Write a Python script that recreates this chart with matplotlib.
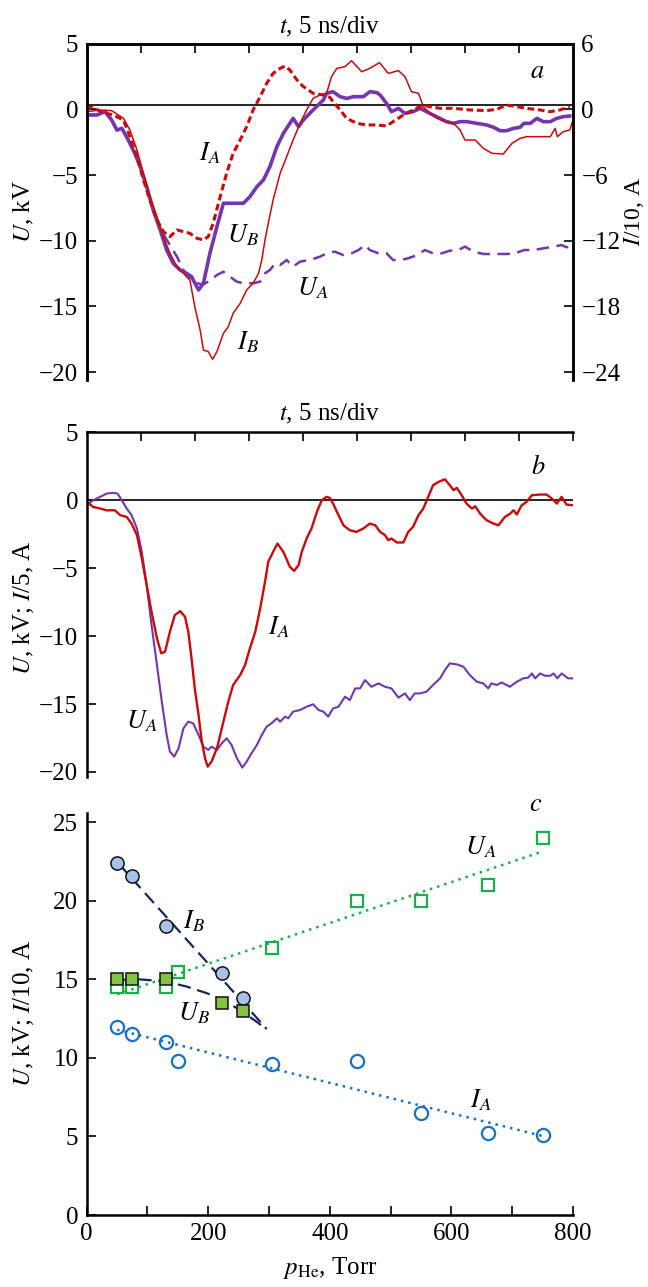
import numpy as np
import matplotlib
matplotlib.use("Agg")
import matplotlib.pyplot as plt

plt.rcParams['font.family'] = ['Liberation Serif', 'DejaVu Serif']
plt.rcParams['mathtext.fontset'] = 'stix'
plt.rcParams['axes.unicode_minus'] = True

# ---------------- Panel a (t in divisions, 5 ns/div) ----------------
ta_IB = [0, 0.25, 0.46, 0.68, 0.80, 0.93, 1.05, 1.17, 1.30, 1.42, 1.54, 1.67, 1.79, 1.91, 2.00, 2.10,
         2.16, 2.25, 2.33, 2.41, 2.53, 2.62, 2.71, 2.84, 2.96, 3.08, 3.18, 3.24, 3.30, 3.36, 3.45, 3.58,
         3.70, 3.82, 3.95, 4.07, 4.19, 4.32, 4.44, 4.53, 4.63, 4.78, 4.90, 5.09, 5.24, 5.42, 5.58, 5.77,
         5.89, 6.01, 6.14, 6.23, 6.35, 6.48, 6.63, 6.79, 6.91, 7.00, 7.19, 7.34, 7.50, 7.71, 7.87, 8.02,
         8.14, 8.58, 8.67, 8.71, 8.82, 8.94, 9.0]
IB_a = [-0.22, -0.06, -0.12, -0.82, -1.89, -3.71, -5.84, -7.97, -9.80, -11.63, -13.15, -14.37, -14.98,
        -15.59, -18.02, -20.16, -21.98, -22.13, -22.83, -22.13, -20.46, -19.85, -18.63, -17.72, -16.50,
        -15.89, -14.98, -13.76, -11.93, -10.41, -8.28, -5.84, -4.33, -2.80, -1.28, -0.06, 1.00, 1.31,
        1.46, 2.98, 3.74, 3.89, 4.44, 3.43, 3.74, 4.26, 3.28, 3.53, 2.98, 1.61, 1.46, 0.24, -0.37, -0.82,
        -1.13, -1.28, -1.89, -2.80, -2.80, -3.56, -4.02, -4.08, -3.11, -2.65, -2.50, -2.50, -1.74, -2.50,
        -2.04, -1.89, -0.98]

ta_IA = [0, 0.12, 0.25, 0.49, 0.68, 0.80, 0.93, 1.05, 1.17, 1.30, 1.42, 1.54, 1.67, 1.79, 1.91, 2.04,
         2.16, 2.25, 2.34, 2.47, 2.59, 2.71, 2.84, 2.96, 3.08, 3.21, 3.33, 3.45, 3.58, 3.67, 3.76, 3.89,
         4.01, 4.19, 4.38, 4.50, 4.56, 4.69, 4.81, 5.00, 5.18, 5.37, 5.55, 5.67, 5.86, 6.04, 6.23, 6.35,
         6.54, 6.79, 7.09, 7.40, 7.59, 7.77, 7.96, 8.14, 8.39, 8.57, 8.76, 8.94]
IA_a = [0.09, 0.24, -0.22, -0.52, -0.98, -2.49, -4.33, -6.45, -8.28, -10.11, -11.17, -11.63, -11.02,
        -11.17, -11.33, -11.78, -11.93, -11.63, -10.41, -7.98, -5.84, -4.02, -2.80, -1.59, -0.06, 1.15,
        2.37, 3.28, 3.74, 3.95, 3.59, 2.68, 2.07, 1.46, 1.31, 1.10, 0.70, -0.06, -0.82, -1.28, -1.43,
        -1.43, -1.52, -1.13, -0.52, -0.06, 0.39, 0.24, 0.09, 0.09, -0.06, -0.12, 0.00, 0.39, 0.24, 0.09,
        -0.06, -0.22, -0.06, 0.24]

ta_UB = [0, 0.19, 0.34, 0.46, 0.56, 0.65, 0.77, 0.89, 0.99, 1.11, 1.23, 1.36, 1.48, 1.60, 1.73, 1.85,
         1.94, 2.07, 2.16, 2.28, 2.41, 2.53, 2.65, 2.90, 3.02, 3.15, 3.27, 3.39, 3.52, 3.64, 3.82, 3.92,
         4.01, 4.19, 4.38, 4.44, 4.56, 4.69, 4.81, 4.94, 5.12, 5.24, 5.37, 5.43, 5.55, 5.64, 5.77, 5.89,
         6.04, 6.17, 6.29, 6.41, 6.54, 6.66, 6.79, 6.91, 7.03, 7.22, 7.40, 7.53, 7.65, 7.77, 7.90, 8.02,
         8.09, 8.21, 8.33, 8.45, 8.58, 8.70, 8.82, 8.94]
UB_a = [-0.43, -0.43, -0.18, -0.81, -1.58, -1.45, -2.34, -3.35, -4.37, -5.89, -7.66, -9.18, -10.71,
        -11.72, -12.23, -12.49, -12.73, -13.75, -13.24, -10.96, -8.93, -7.15, -7.15, -7.15, -6.65, -5.89,
        -5.38, -4.37, -2.84, -1.83, -0.69, -1.32, -0.81, -0.05, 0.71, 1.22, 1.34, 0.96, 0.83, 0.96, 0.96,
        1.34, 1.27, 1.09, 0.45, -0.18, 0.07, -0.31, -0.18, 0.07, -0.18, -0.43, -0.69, -0.94, -1.07,
        -0.94, -0.94, -1.07, -1.19, -1.37, -1.63, -1.63, -1.45, -1.37, -1.07, -1.07, -0.69, -0.94, -0.94,
        -0.69, -0.56, -0.51]

ta_UA = [0, 0.19, 0.34, 0.46, 0.56, 0.65, 0.77, 0.89, 0.99, 1.11, 1.23, 1.39, 1.54, 1.67, 1.79, 1.91,
         2.04, 2.16, 2.28, 2.41, 2.53, 2.65, 2.78, 2.90, 3.08, 3.21, 3.30, 3.39, 3.49, 3.58, 3.70, 3.82,
         3.95, 4.13, 4.32, 4.44, 4.59, 4.75, 4.90, 5.03, 5.15, 5.24, 5.40, 5.55, 5.67, 5.80, 5.95, 6.11,
         6.26, 6.41, 6.57, 6.72, 6.88, 7.00, 7.16, 7.34, 7.53, 7.77, 7.93, 8.09, 8.27, 8.45, 8.64, 8.79,
         8.88, 8.96]
UA_a = [-0.43, -0.43, -0.18, -0.81, -1.58, -1.45, -2.34, -3.35, -4.37, -5.89, -7.66, -9.31, -10.33,
        -11.21, -12.23, -12.86, -13.24, -13.32, -13.04, -12.61, -12.36, -12.74, -13.12, -13.24, -13.24,
        -13.12, -12.48, -12.23, -11.72, -11.85, -11.47, -11.97, -11.59, -11.47, -11.21, -10.96, -10.83,
        -11.09, -10.96, -10.71, -10.33, -10.71, -10.96, -10.96, -11.47, -11.47, -11.34, -11.09, -10.71,
        -10.96, -10.96, -10.76, -10.71, -10.45, -10.83, -11.01, -11.01, -11.01, -10.96, -10.71, -10.71,
        -10.58, -10.45, -10.33, -10.50, -10.45]

# ---------------- Panel b ----------------
tb_IA = [0, 0.12, 0.25, 0.37, 0.52, 0.62, 0.74, 0.83, 0.93, 1.02, 1.11, 1.20, 1.30, 1.38, 1.45, 1.54,
         1.63, 1.73, 1.82, 1.88, 1.94, 2.00, 2.07, 2.13, 2.19, 2.24, 2.31, 2.41, 2.53, 2.62, 2.71, 2.84,
         2.93, 3.02, 3.12, 3.21, 3.30, 3.36, 3.45, 3.53, 3.64, 3.76, 3.84, 3.92, 3.98, 4.07, 4.16, 4.26,
         4.35, 4.44, 4.50, 4.56, 4.66, 4.75, 4.87, 4.99, 5.12, 5.24, 5.34, 5.43, 5.52, 5.58, 5.64, 5.74,
         5.86, 5.95, 6.04, 6.14, 6.23, 6.32, 6.41, 6.51, 6.63, 6.72, 6.79, 6.85, 6.94, 7.03, 7.13, 7.19,
         7.28, 7.40, 7.53, 7.62, 7.74, 7.84, 7.90, 7.96, 8.05, 8.14, 8.24, 8.39, 8.51, 8.61, 8.70, 8.79,
         8.88, 9.0]
IA_b = [-0.12, -0.49, -0.61, -0.74, -0.74, -1.10, -1.23, -1.72, -2.57, -4.29, -6.25, -8.21, -10.17,
        -11.27, -11.15, -9.68, -8.46, -8.16, -8.58, -9.68, -11.64, -13.85, -15.81, -17.77, -19.0, -19.61,
        -19.24, -18.26, -16.30, -14.83, -13.60, -12.87, -12.13, -10.91, -9.68, -7.97, -6.00, -4.53, -3.80,
        -3.19, -3.80, -4.90, -5.20, -4.78, -3.80, -2.82, -2.08, -0.86, 0.0, 0.25, 0.17, -0.25, -1.10,
        -1.84, -2.21, -2.33, -2.08, -1.72, -1.84, -2.33, -2.57, -2.94, -2.82, -3.11, -3.11, -2.33, -1.96,
        -1.10, -0.61, 0.25, 1.10, 1.35, 1.54, 1.10, 0.74, 0.91, 0.37, -0.25, -0.61, -0.44, -0.98, -1.47,
        -1.72, -1.84, -1.23, -0.98, -0.74, -1.05, -0.37, -0.12, 0.37, 0.42, 0.42, 0.12, -0.25, 0.25,
        -0.32, -0.37]

tb_UA = [0, 0.12, 0.25, 0.37, 0.49, 0.57, 0.65, 0.74, 0.83, 0.93, 1.02, 1.11, 1.20, 1.30, 1.39, 1.48,
         1.54, 1.62, 1.70, 1.79, 1.88, 1.97, 2.07, 2.16, 2.25, 2.31, 2.41, 2.50, 2.59, 2.68, 2.78, 2.88,
         2.96, 3.05, 3.15, 3.24, 3.33, 3.42, 3.52, 3.58, 3.67, 3.73, 3.82, 3.95, 4.07, 4.19, 4.29, 4.38,
         4.47, 4.56, 4.66, 4.78, 4.87, 4.97, 5.06, 5.15, 5.27, 5.40, 5.52, 5.64, 5.77, 5.89, 5.98, 6.07,
         6.17, 6.29, 6.41, 6.54, 6.63, 6.72, 6.85, 6.97, 7.09, 7.22, 7.34, 7.43, 7.49, 7.59, 7.68, 7.83,
         7.96, 8.08, 8.17, 8.24, 8.30, 8.39, 8.48, 8.58, 8.64, 8.71, 8.79, 8.91, 9.0]
UA_b = [-0.37, 0.0, 0.25, 0.49, 0.54, 0.49, 0.0, -0.61, -1.10, -2.08, -3.80, -6.25, -9.19, -12.13,
        -14.83, -17.28, -18.50, -18.87, -18.26, -16.79, -16.30, -16.42, -17.28, -18.14, -18.38, -18.14,
        -18.38, -17.89, -17.52, -18.01, -18.99, -19.68, -19.24, -18.63, -18.01, -17.28, -16.67, -16.42,
        -16.05, -16.30, -15.93, -16.05, -15.56, -15.44, -15.20, -15.02, -15.44, -15.56, -15.93, -15.32,
        -15.20, -14.46, -14.71, -13.85, -13.85, -13.24, -13.73, -13.48, -13.73, -13.85, -14.53, -14.22,
        -14.71, -14.22, -14.22, -14.09, -13.60, -13.11, -12.50, -12.01, -12.08, -12.25, -12.87, -13.36,
        -13.48, -13.85, -13.48, -13.60, -13.41, -13.73, -13.36, -13.11, -13.06, -12.75, -13.11, -12.75,
        -12.92, -12.92, -12.75, -13.11, -12.75, -13.11, -13.11]

# ---------------- Panel c ----------------
p_A = [50, 75, 130, 150, 305, 445, 550, 660, 750]
UA_c = [14.5, 14.5, 14.5, 15.5, 17.0, 20.0, 20.0, 21.0, 24.0]
IA_c = [12.0, 11.5, 11.0, 9.8, 9.6, 9.8, 6.5, 5.2, 5.1]
p_B = [50, 75, 130, 222, 257]
IB_c = [22.4, 21.6, 18.4, 15.4, 13.8]
UB_c = [15.0, 15.0, 15.0, 13.5, 13.0]
# trend lines
fitUA_p = [50, 750]
fitUA_v = [14.05, 23.15]
fitIA_p = [50, 750]
fitIA_v = [11.8, 5.03]
fitIB_p = [52, 296]
fitIB_v = [22.4, 11.85]
fitUB_p = [52, 83, 130, 164, 198, 225, 252, 279, 296]
fitUB_v = [14.97, 15.02, 14.87, 14.55, 14.12, 13.66, 13.06, 12.32, 11.83]

RED = '#cc0a0a'
PURPLE = '#7436b0'
FS = 18
FSL = 19

W, H = 648, 1287
fig = plt.figure(figsize=(W / 100, H / 100), dpi=100)


def frac(left, top, right, bottom):
    return [left / W, 1 - bottom / H, (right - left) / W, (bottom - top) / H]


def style_ticks(ax):
    ax.tick_params(direction='in', length=6.5, width=1.2, labelsize=FS, pad=6)
    for s in ax.spines.values():
        s.set_linewidth(1.8)


# ---- panel a ----
axa = fig.add_axes(frac(86.7, 43.6, 573, 380))
axa.set_xlim(0, 9)
axa.set_ylim(-20.6, 5)
axa.axhline(0.3, color='black', lw=1.2, zorder=1)
axa.plot(ta_UA, UA_a, color=PURPLE, lw=1.8, dashes=(5, 3))
axa.plot(ta_UB, UB_a, color=PURPLE, lw=2.6)
axa2 = axa.twinx()
axa2.set_ylim(-20.6 * 1.2, 6)
axa2.plot(ta_IB, IB_a, color=RED, lw=1.1)
axa2.plot(ta_IA, IA_a, color=RED, lw=2.2, dashes=(2.2, 1.2))
for ax in (axa, axa2):
    ax.spines['bottom'].set_visible(False)
    style_ticks(ax)
axa.set_yticks([5, 0, -5, -10, -15, -20])
axa2.set_yticks([6, 0, -6, -12, -18, -24])
axa.set_xticks(np.arange(1, 9))
axa.tick_params(axis='x', top=True, bottom=False, labelbottom=False)
axa.set_ylabel('$U$, kV', fontsize=FS)
axa.yaxis.set_label_coords(-0.105, 0.5)
axa2.set_ylabel('$I$/10, A', fontsize=17, rotation=90)
axa2.yaxis.set_label_coords(1.100, 0.5)
axa.text(0.5, 1.048, '$t$, 5 ns/div', transform=axa.transAxes, ha='center', va='center', fontsize=FS)
axa.text(8.33, 2.86, '$a$', fontsize=FSL, ha='center', va='center')
axa.text(2.28, -3.35, '$I_A$', fontsize=FSL, ha='center', va='center')
axa.text(2.90, -9.57, '$U_B$', fontsize=FSL, ha='center', va='center')
axa.text(4.19, -13.6, '$U_A$', fontsize=FSL, ha='center', va='center')
axa.text(2.99, -17.7, '$I_B$', fontsize=FSL, ha='center', va='center')

# ---- panel b ----
axb = fig.add_axes(frac(86.7, 432.3, 573, 776.7))
axb.set_xlim(0, 9)
axb.set_ylim(-20.35, 5)
axb.axhline(0, color='black', lw=1.2, zorder=1)
axb.plot(tb_UA, UA_b, color=PURPLE, lw=1.5)
axb.plot(tb_IA, IA_b, color=RED, lw=1.7)
axb.spines['bottom'].set_visible(False)
axb.spines['right'].set_visible(False)
style_ticks(axb)
axb.set_yticks([5, 0, -5, -10, -15, -20])
axb.set_xticks(np.arange(1, 10))
axb.tick_params(axis='x', top=True, bottom=False, labelbottom=False)
axb.set_ylabel('$U$, kV; $I$/5, A', fontsize=FS)
axb.yaxis.set_label_coords(-0.105, 0.49)
axb.text(0.5, 1.053, '$t$, 5 ns/div', transform=axb.transAxes, ha='center', va='center', fontsize=FS)
axb.text(8.36, 2.43, '$b$', fontsize=FSL, ha='center', va='center')
axb.text(3.55, -9.34, '$I_A$', fontsize=FSL, ha='center', va='center')
axb.text(1.02, -16.3, '$U_A$', fontsize=FSL, ha='center', va='center')

# ---- panel c ----
axc = fig.add_axes(frac(86.7, 813, 573, 1215))
axc.set_xlim(0, 800)
axc.set_ylim(0, 25.6)
GREEN = '#19b04a'
BLUE = '#1572c8'
NAVY = '#14285e'
axc.plot(fitUA_p, fitUA_v, color=GREEN, lw=1.8, ls=(0, (1, 2)))
axc.plot(fitIA_p, fitIA_v, color=BLUE, lw=1.8, ls=(0, (1, 2)))
axc.plot(fitIB_p, fitIB_v, color=NAVY, lw=1.6, dashes=(6, 3))
axc.plot(fitUB_p, fitUB_v, color=NAVY, lw=1.6, dashes=(6, 3))
axc.plot(p_A, UA_c, ls='none', marker='s', ms=8.5, mfc='none', mec=GREEN, mew=1.6)
axc.plot(p_A, IA_c, ls='none', marker='o', ms=9.5, mfc='none', mec=BLUE, mew=1.6)
axc.plot(p_B, IB_c, ls='none', marker='o', ms=9.5, mfc='#a7c4e8', mec='#111111', mew=1.1)
axc.plot(p_B, UB_c, ls='none', marker='s', ms=8.5, mfc='#82c341', mec='#111111', mew=1.1)
axc.spines['top'].set_visible(False)
axc.spines['right'].set_visible(False)
style_ticks(axc)
axc.set_xticks(np.arange(0, 801, 100))
axc.set_xticklabels(['0', '', '200', '', '400', '', '600', '', '800'])
axc.set_yticks([0, 5, 10, 15, 20, 25])
axc.set_ylabel('$U$, kV; $I$/10, A', fontsize=FS)
axc.yaxis.set_label_coords(-0.105, 0.5)
axc.set_xlabel(r'$p_{\mathrm{He}}$, Torr', fontsize=FS)
axc.xaxis.set_label_coords(0.5, -0.1)
axc.text(739, 26.1, '$c$', fontsize=FSL, ha='center', va='center', clip_on=False)
axc.text(648, 23.4, '$U_A$', fontsize=FSL, ha='center', va='center')
axc.text(177, 18.7, '$I_B$', fontsize=FSL, ha='center', va='center')
axc.text(177, 12.85, '$U_B$', fontsize=FSL, ha='center', va='center')
axc.text(648, 7.3, '$I_A$', fontsize=FSL, ha='center', va='center')

fig.savefig('out.png', dpi=100)
